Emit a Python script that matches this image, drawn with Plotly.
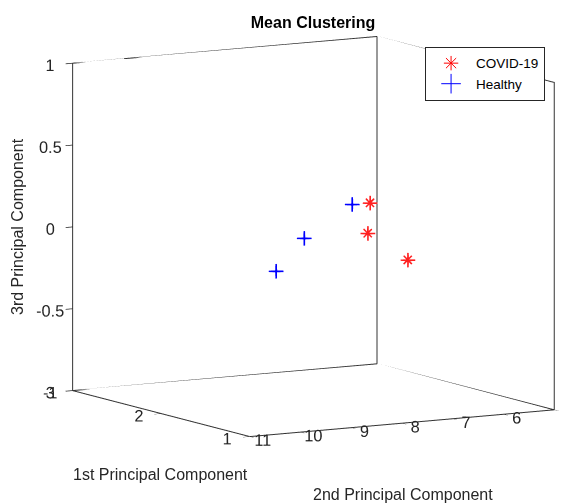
import plotly.graph_objects as go

# ---- data ----
covid_pc1 = [1.5, 1.6, 1.4]
covid_pc2 = [7.76, 7.63, 7.19]
covid_pc3 = [0.27, 0.067, -0.08]

healthy_pc1 = [2.0, 1.9, 1.8]
healthy_pc2 = [8.74, 8.36, 7.59]
healthy_pc3 = [-0.19, 0.015, 0.215]

x_range = [1, 3]
y_range = [5, 11]
z_range = [-1, 1]
x_ticks = [1, 2, 3]
y_ticks = [5, 6, 7, 8, 9, 10, 11]
z_ticks = [-1, -0.5, 0, 0.5, 1]
z_ticktext = ["-1", "-0.5", "0", "0.5", "1"]

AX = "#262626"
FONT = "Liberation Sans, Arial, sans-serif"

fig = go.Figure()

# box outline (back planes + bottom), derived from axis ranges
x0, x1 = x_range
y0, y1 = y_range
z0, z1 = z_range
edges = [
    [(x1, y1, z0), (x0, y1, z0), (x0, y0, z0), (x1, y0, z0), (x1, y1, z0)],
    [(x1, y1, z0), (x1, y1, z1), (x1, y0, z1), (x0, y0, z1), (x0, y0, z0)],
    [(x1, y0, z0), (x1, y0, z1)],
]
ex, ey, ez = [], [], []
for e in edges:
    for p in e:
        ex.append(p[0]); ey.append(p[1]); ez.append(p[2])
    ex.append(None); ey.append(None); ez.append(None)
fig.add_trace(go.Scatter3d(x=ex, y=ey, z=ez, mode="lines",
                           line=dict(color="#333333", width=2),
                           hoverinfo="skip", showlegend=False))

# data markers
fig.add_trace(go.Scatter3d(x=covid_pc1, y=covid_pc2, z=covid_pc3, mode="markers",
                           marker=dict(symbol="cross", size=8, color="#ff2020"),
                           showlegend=False, name="COVID-19"))
fig.add_trace(go.Scatter3d(x=covid_pc1, y=covid_pc2, z=covid_pc3, mode="text",
                           text=["×"] * len(covid_pc1),
                           textfont=dict(color="#ff2020", size=21, family=FONT),
                           textposition="middle center",
                           showlegend=False, hoverinfo="skip"))
fig.add_trace(go.Scatter3d(x=healthy_pc1, y=healthy_pc2, z=healthy_pc3, mode="markers",
                           marker=dict(symbol="cross", size=8, color="blue"),
                           showlegend=False, name="Healthy"))

# legend entries
fig.add_trace(go.Scatter(x=[None], y=[None], mode="markers", name="COVID-19",
                         marker=dict(symbol="asterisk-open", size=12,
                                     line=dict(color="red", width=1), color="red")))
fig.add_trace(go.Scatter(x=[None], y=[None], mode="markers", name="Healthy",
                         marker=dict(symbol="cross-thin-open", size=14,
                                     line=dict(color="blue", width=1), color="blue")))

axis_common = dict(showgrid=False, zeroline=False, showbackground=False,
                   showspikes=False, showline=False, ticks="outside",
                   ticklen=8, tickwidth=1.5, tickcolor=AX, tickangle=0,
                   title=dict(text=""),
                   tickfont=dict(family=FONT, size=14, color=AX))

k = 1.398
cx, cy, cz = 0.0557, 0.1142, -0.0607
fig.update_layout(
    width=563, height=504,
    margin=dict(l=0, r=0, t=0, b=0),
    paper_bgcolor="white", plot_bgcolor="rgba(0,0,0,0)",
    font=dict(family=FONT, color=AX),
    title=dict(text="<b>Mean Clustering</b>", x=0.556, y=0.956,
               xanchor="center", yanchor="middle",
               font=dict(family=FONT, size=16, color="black")),
    xaxis=dict(visible=False, domain=[0, 0.01]),
    yaxis=dict(visible=False, domain=[0, 0.01]),
    scene=dict(
        domain=dict(x=[0, 1.0], y=[0, 1.0]),
        xaxis=dict(range=x_range, tickvals=x_ticks, **axis_common),
        yaxis=dict(range=y_range, tickvals=y_ticks, **axis_common),
        zaxis=dict(range=z_range, tickvals=z_ticks, ticktext=z_ticktext, **axis_common),
        aspectmode="manual",
        aspectratio=dict(x=1 * k, y=1 * k, z=0.94 * k),
        camera=dict(eye=dict(x=-0.854 * 2 + cx, y=0.497 * 2 + cy, z=0.151 * 2 + cz),
                    up=dict(x=0, y=0, z=1), center=dict(x=cx, y=cy, z=cz),
                    projection=dict(type="orthographic")),
    ),
    legend=dict(x=0.755, y=0.907, xanchor="left", yanchor="top",
                bordercolor=AX, borderwidth=1, bgcolor="white", itemwidth=40,
                font=dict(family=FONT, size=13.5, color="black")),
    annotations=[
        dict(text="1st Principal Component", x=160 / 563, y=1 - 474 / 504,
             xref="paper", yref="paper", showarrow=False,
             xanchor="center", yanchor="middle",
             font=dict(family=FONT, size=16, color=AX)),
        dict(text="2nd Principal Component", x=403 / 563, y=1 - 494 / 504,
             xref="paper", yref="paper", showarrow=False,
             xanchor="center", yanchor="middle",
             font=dict(family=FONT, size=16, color=AX)),
        dict(text="3rd Principal Component", x=18 / 563, y=1 - 227 / 504,
             xref="paper", yref="paper", showarrow=False, textangle=-90,
             xanchor="center", yanchor="middle",
             font=dict(family=FONT, size=16, color=AX)),
    ],
)

fig.write_html("out.html")
